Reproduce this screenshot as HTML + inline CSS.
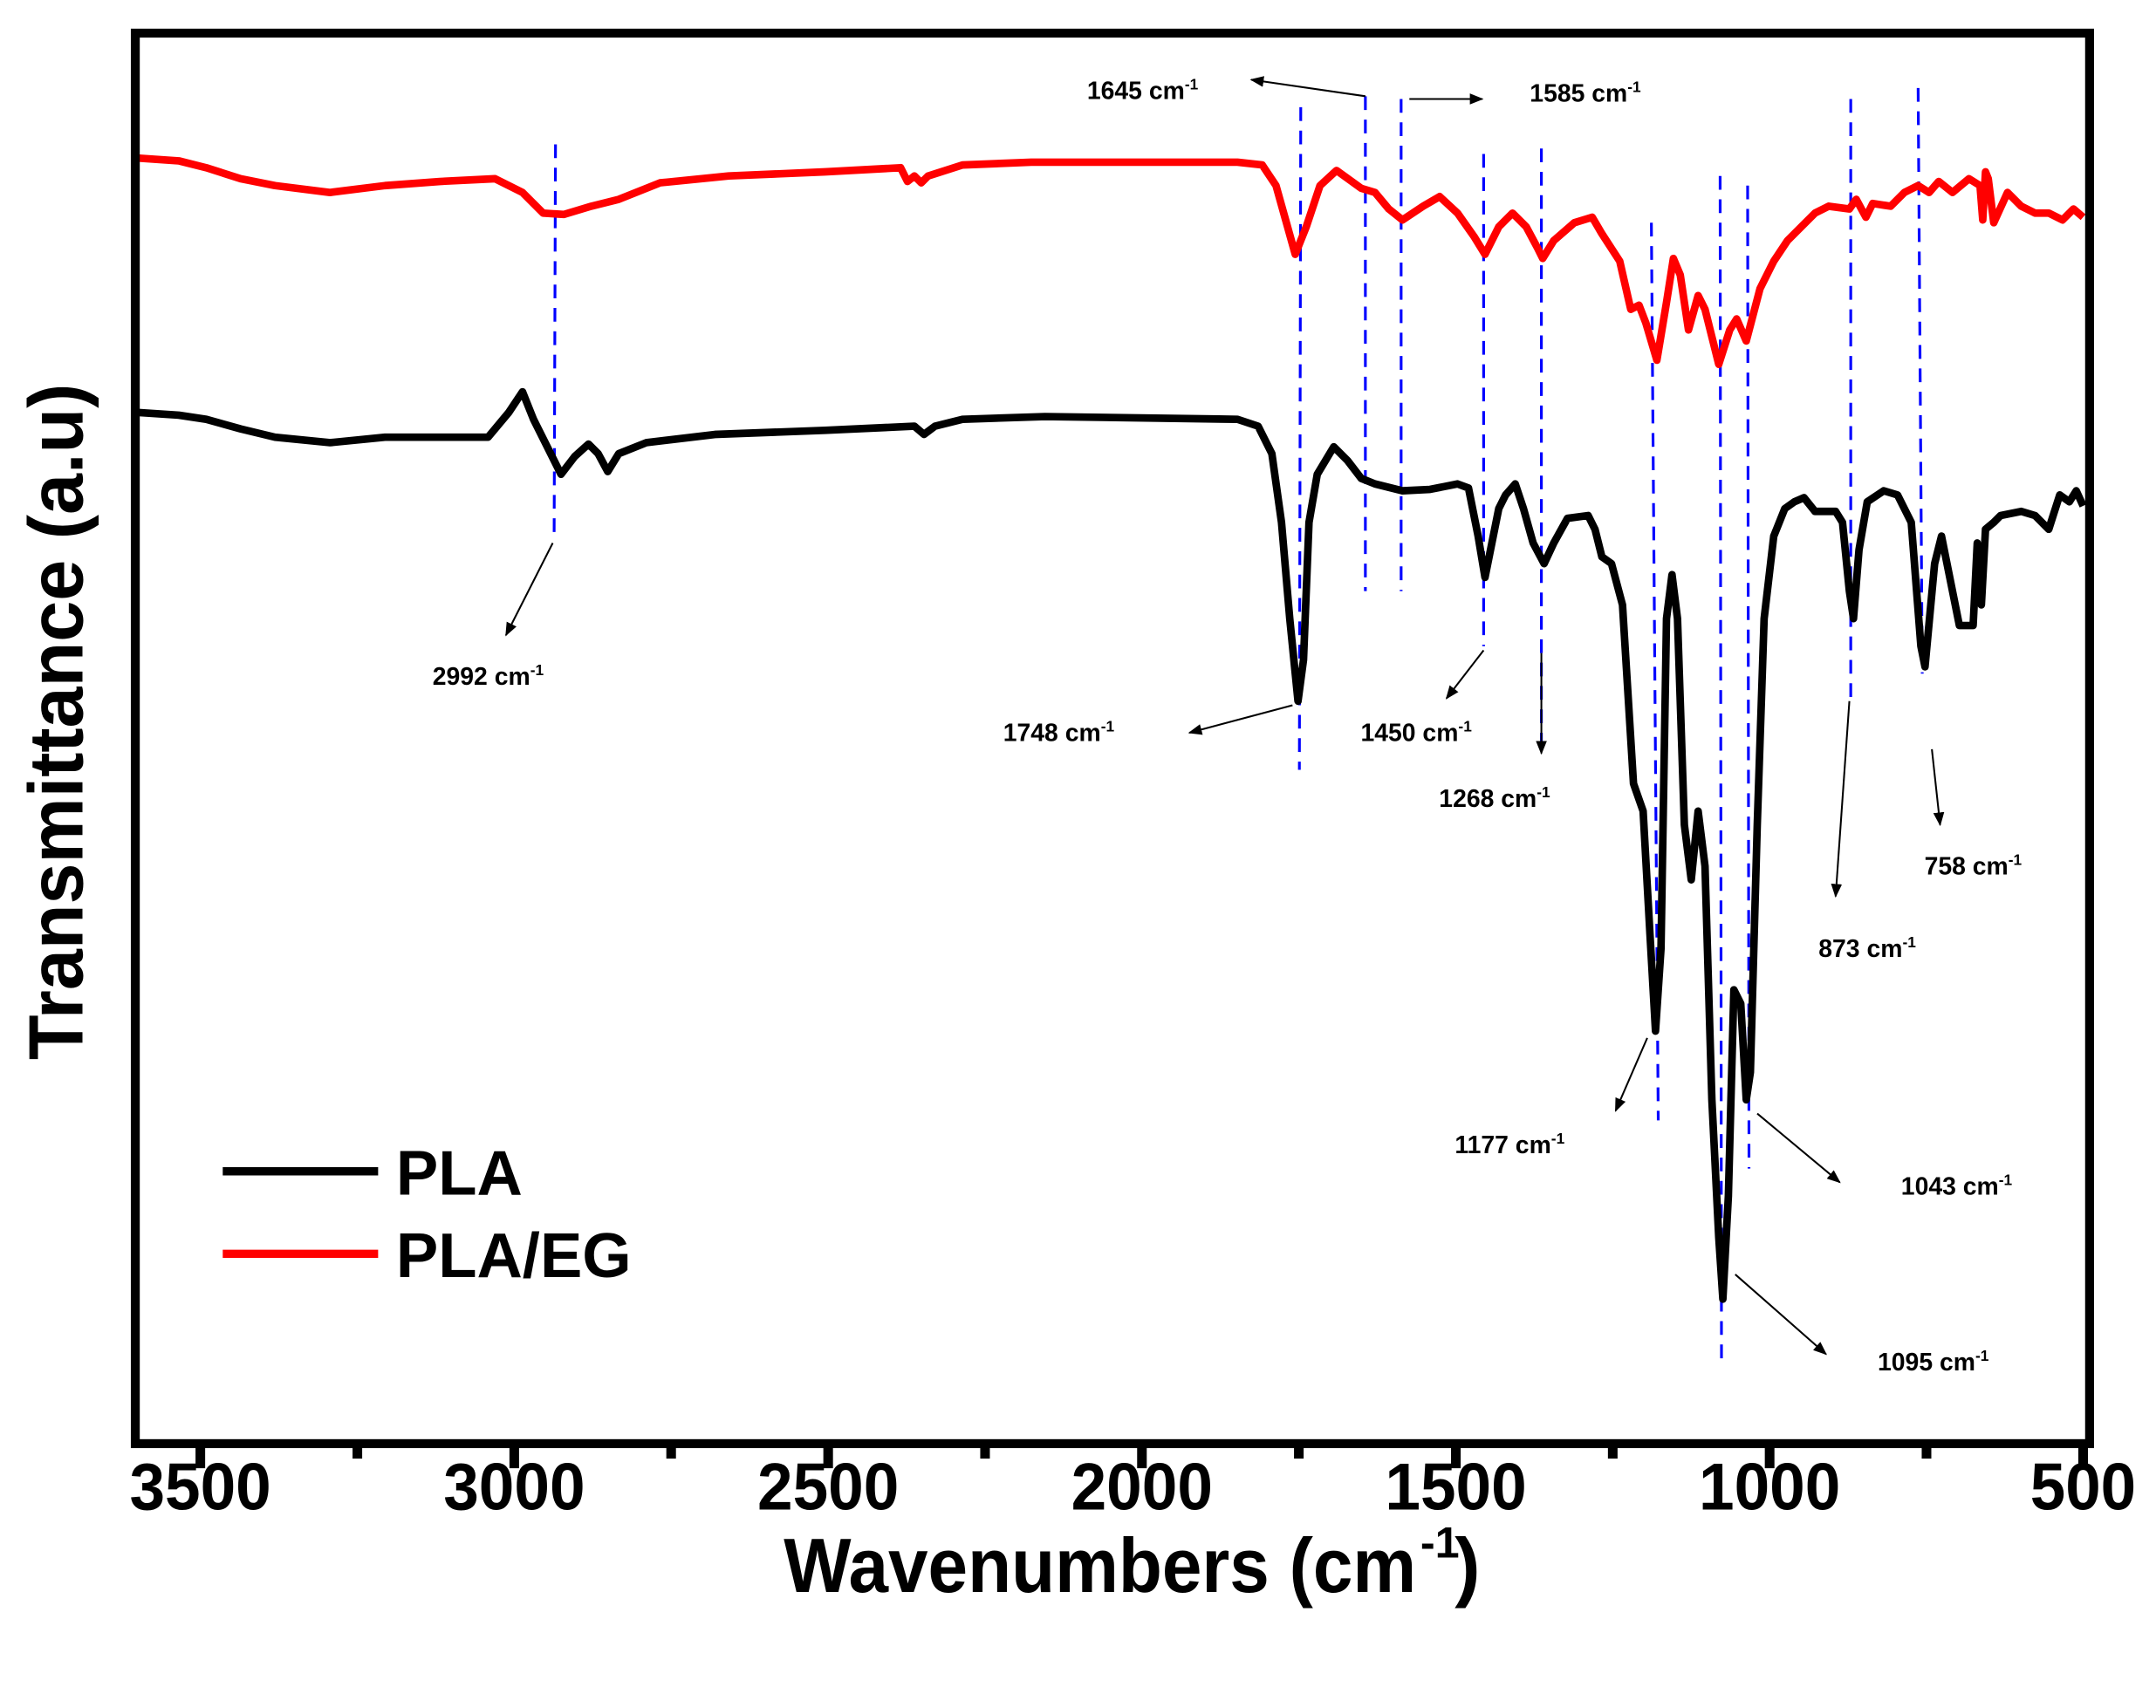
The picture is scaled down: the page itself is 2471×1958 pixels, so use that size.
<!DOCTYPE html>
<html><head><meta charset="utf-8"><style>html,body{margin:0;padding:0;background:#fff}svg{display:block}</style></head>
<body>
<svg width="2471" height="1958" viewBox="0 0 1568 1242.4" preserveAspectRatio="none" xmlns="http://www.w3.org/2000/svg" font-family="Liberation Sans, Arial, sans-serif" font-weight="bold">
<defs><marker id="ah" markerWidth="10" markerHeight="8" refX="9" refY="4" orient="auto" markerUnits="userSpaceOnUse"><path d="M0,0 L10,4 L0,8 Z" fill="#000"/></marker></defs>
<rect width="1568" height="1242.4" fill="#fff"/>
<g stroke="#0000ff" stroke-width="2" stroke-dasharray="10,7" fill="none">
<line x1="404" y1="105" x2="403" y2="390"/>
<line x1="946" y1="78" x2="945" y2="560"/>
<line x1="993" y1="70" x2="993" y2="430"/>
<line x1="1019" y1="72" x2="1019" y2="430"/>
<line x1="1079" y1="112" x2="1079" y2="470"/>
<line x1="1121" y1="108" x2="1121" y2="548"/>
<line x1="1201" y1="162" x2="1206" y2="815"/>
<line x1="1251" y1="128" x2="1252" y2="995"/>
<line x1="1271" y1="135" x2="1272" y2="850"/>
<line x1="1346" y1="72" x2="1346" y2="510"/>
<line x1="1395" y1="64" x2="1398" y2="490"/>
</g>
<polyline fill="none" stroke="#ff0000" stroke-width="5.5" stroke-linejoin="round" points="100,115 130,117 150,122 175,130 200,135 240,140 280,135 320,132 360,130 380,140 395,155 410,156 430,150 450,145 480,133 530,128 600,125 655,122 660,132 665,128 670,133 675,128 700,120 750,118 900,118 918,120 928,135 935,160 942,185 950,165 960,135 972,124 990,137 1000,140 1010,152 1020,160 1035,150 1047,143 1060,155 1072,172 1080,185 1090,165 1100,155 1110,165 1118,180 1122,188 1130,175 1145,162 1158,158 1165,170 1178,190 1186,225 1192,222 1197,235 1205,262 1212,220 1217,188 1222,200 1228,240 1235,215 1240,225 1250,265 1258,240 1263,232 1270,248 1280,210 1290,190 1300,175 1320,155 1330,150 1345,152 1350,145 1357,158 1362,148 1375,150 1385,140 1395,135 1403,140 1410,132 1420,140 1432,130 1440,135 1442,160 1444,125 1446,130 1450,162 1460,140 1470,150 1480,155 1490,155 1500,160 1508,152 1515,158"/>
<polyline fill="none" stroke="#000" stroke-width="5.5" stroke-linejoin="round" points="100,300 130,302 150,305 175,312 200,318 240,322 280,318 320,318 355,318 370,300 380,285 388,305 398,325 408,345 418,332 428,323 435,330 442,343 450,330 470,322 520,316 600,313 665,310 672,316 680,310 700,305 760,303 900,305 915,310 925,330 932,380 938,450 944,510 948,480 952,380 958,345 970,325 980,335 990,348 1000,352 1020,357 1040,356 1060,352 1068,355 1075,390 1080,420 1085,395 1090,370 1095,360 1102,352 1108,370 1115,395 1123,410 1130,395 1140,377 1155,375 1160,385 1165,405 1172,410 1180,440 1188,570 1195,590 1200,680 1204,750 1208,690 1212,450 1216,418 1220,450 1225,600 1230,640 1235,590 1240,630 1245,800 1250,900 1253,945 1257,870 1261,720 1266,730 1270,800 1273,780 1278,600 1283,450 1290,390 1298,370 1305,365 1312,362 1320,372 1335,372 1340,380 1345,430 1348,450 1352,400 1358,365 1370,357 1380,360 1390,380 1397,470 1400,485 1407,410 1412,390 1418,420 1425,455 1435,455 1438,395 1441,440 1444,385 1450,380 1455,375 1470,372 1480,375 1490,385 1498,360 1505,365 1510,357 1515,368"/>
<g stroke="#000" stroke-width="1.3" marker-end="url(#ah)">
<line x1="402" y1="395" x2="368" y2="462"/>
<line x1="940" y1="513" x2="865" y2="533"/>
<line x1="1079" y1="473" x2="1052" y2="508"/>
<line x1="1121" y1="475" x2="1121" y2="548"/>
<line x1="1198" y1="755" x2="1175" y2="808"/>
<line x1="1278" y1="810" x2="1338" y2="860"/>
<line x1="1262" y1="927" x2="1328" y2="985"/>
<line x1="1345" y1="510" x2="1335" y2="652"/>
<line x1="1405" y1="545" x2="1411" y2="600"/>
<line x1="993" y1="70" x2="910" y2="58"/>
<line x1="1025" y1="72" x2="1078" y2="72"/>
</g>
<g font-size="18" text-anchor="middle" fill="#000">
<text x="355" y="498">2992 cm<tspan dy="-7" font-size="11">-1</tspan></text>
<text x="770" y="539">1748 cm<tspan dy="-7" font-size="11">-1</tspan></text>
<text x="1030" y="539">1450 cm<tspan dy="-7" font-size="11">-1</tspan></text>
<text x="1087" y="587">1268 cm<tspan dy="-7" font-size="11">-1</tspan></text>
<text x="1098" y="839">1177 cm<tspan dy="-7" font-size="11">-1</tspan></text>
<text x="1423" y="869">1043 cm<tspan dy="-7" font-size="11">-1</tspan></text>
<text x="1406" y="997">1095 cm<tspan dy="-7" font-size="11">-1</tspan></text>
<text x="1358" y="696">873 cm<tspan dy="-7" font-size="11">-1</tspan></text>
<text x="1435" y="636">758 cm<tspan dy="-7" font-size="11">-1</tspan></text>
<text x="831" y="72">1645 cm<tspan dy="-7" font-size="11">-1</tspan></text>
<text x="1153" y="74">1585 cm<tspan dy="-7" font-size="11">-1</tspan></text>
</g>
<rect x="98.4" y="24.1" width="1421.3" height="1026" fill="none" stroke="#000" stroke-width="6.5"/>
<g stroke="#000" stroke-width="7">
<line x1="145.7" y1="1050" x2="145.7" y2="1068"/><line x1="374" y1="1050" x2="374" y2="1068"/><line x1="602.3" y1="1050" x2="602.3" y2="1068"/><line x1="830.5" y1="1050" x2="830.5" y2="1068"/><line x1="1058.8" y1="1050" x2="1058.8" y2="1068"/><line x1="1287" y1="1050" x2="1287" y2="1068"/><line x1="1515" y1="1050" x2="1515" y2="1068"/>
<line x1="259.9" y1="1050" x2="259.9" y2="1061"/><line x1="488.1" y1="1050" x2="488.1" y2="1061"/><line x1="716.4" y1="1050" x2="716.4" y2="1061"/><line x1="944.6" y1="1050" x2="944.6" y2="1061"/><line x1="1172.9" y1="1050" x2="1172.9" y2="1061"/><line x1="1401.1" y1="1050" x2="1401.1" y2="1061"/>
</g>
<g font-size="48" text-anchor="middle" fill="#000">
<text x="145.7" y="1098" textLength="103" lengthAdjust="spacingAndGlyphs">3500</text>
<text x="374" y="1098" textLength="103" lengthAdjust="spacingAndGlyphs">3000</text>
<text x="602.3" y="1098" textLength="103" lengthAdjust="spacingAndGlyphs">2500</text>
<text x="830.5" y="1098" textLength="103" lengthAdjust="spacingAndGlyphs">2000</text>
<text x="1058.8" y="1098" textLength="103" lengthAdjust="spacingAndGlyphs">1500</text>
<text x="1287" y="1098" textLength="103" lengthAdjust="spacingAndGlyphs">1000</text>
<text x="1515" y="1098" textLength="77" lengthAdjust="spacingAndGlyphs">500</text>
</g>
<text x="570" y="1158" font-size="56" textLength="460" lengthAdjust="spacingAndGlyphs">Wavenumbers (cm</text>
<text x="1033" y="1133" font-size="32">-1</text>
<text x="1058" y="1158" font-size="56">)</text>
<text transform="translate(60,525) rotate(-90)" font-size="56" text-anchor="middle" textLength="492" lengthAdjust="spacingAndGlyphs">Transmittance (a.u)</text>
<line x1="162" y1="852" x2="275" y2="852" stroke="#000" stroke-width="6"/>
<line x1="162" y1="912" x2="275" y2="912" stroke="#ff0000" stroke-width="6"/>
<text x="288" y="869" font-size="46">PLA</text>
<text x="288" y="929" font-size="46">PLA/EG</text>
</svg>
</body></html>
